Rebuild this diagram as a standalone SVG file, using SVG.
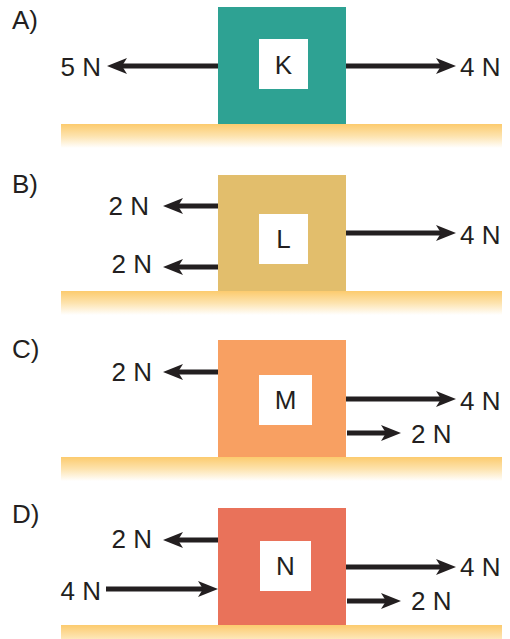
<svg xmlns="http://www.w3.org/2000/svg" width="510" height="639" viewBox="0 0 510 639">
<defs>
<linearGradient id="gr" x1="0" y1="0" x2="0" y2="1">
<stop offset="0" stop-color="#FCCB6E"/>
<stop offset="0.5" stop-color="#FDE3AE"/>
<stop offset="1" stop-color="#FFFFFF"/>
</linearGradient>
<marker id="ah" markerWidth="22" markerHeight="18" refX="6" refY="8" orient="auto" markerUnits="userSpaceOnUse">
<path d="M0,0 L20,8 L0,16 L5,8 Z" fill="#231F20"/>
</marker>
</defs>
<style>
text{font-family:"Liberation Sans",Arial,sans-serif;font-size:26px;fill:#231F20}
.c{text-anchor:middle}
.e{text-anchor:end}
.g{fill:url(#gr)}
.w{fill:#FFFFFF}
.a{stroke:#231F20;stroke-width:5;fill:none;marker-end:url(#ah)}
</style>
<g id="ground">
<rect class="g" x="61" y="124" width="441" height="24"/>
<rect class="g" x="61" y="291" width="441" height="24"/>
<rect class="g" x="61" y="457" width="441" height="24"/>
<rect class="g" x="61" y="625" width="441" height="24"/>
</g>
<g id="panelA">
<text x="12" y="29">A)</text>
<g id="K"><rect x="218" y="7" width="128" height="117" fill="#2EA293"/><rect class="w" x="259" y="39" width="49" height="50"/><text class="c" x="283.5" y="74">K</text></g>
</g>
<g id="panelB">
<text x="12" y="193">B)</text>
<g id="L"><rect x="218" y="175" width="128" height="116" fill="#E2BE6C"/><rect class="w" x="259" y="214" width="49" height="50"/><text class="c" x="283.5" y="248">L</text></g>
</g>
<g id="panelC">
<text x="12" y="358">C)</text>
<g id="M"><rect x="218" y="340" width="128" height="117" fill="#F8A062"/><rect class="w" x="259" y="375" width="53" height="50"/><text class="c" x="285.5" y="409">M</text></g>
</g>
<g id="panelD">
<text x="12" y="523">D)</text>
<g id="N"><rect x="218" y="508" width="128" height="117" fill="#E9725A"/><rect class="w" x="260" y="541" width="51" height="50"/><text class="c" x="285.5" y="575">N</text></g>
</g>
<g id="connectors">
<line class="a" x1="218" y1="66" x2="121" y2="66"/>
<line class="a" x1="346" y1="66" x2="442" y2="66"/>
<line class="a" x1="218" y1="206" x2="177" y2="206"/>
<line class="a" x1="218" y1="267" x2="177" y2="267"/>
<line class="a" x1="346" y1="233" x2="442" y2="233"/>
<line class="a" x1="218" y1="372" x2="177" y2="372"/>
<line class="a" x1="346" y1="399" x2="442" y2="399"/>
<line class="a" x1="347" y1="433" x2="387" y2="433"/>
<line class="a" x1="218" y1="540" x2="177" y2="540"/>
<line class="a" x1="106" y1="589" x2="204" y2="589"/>
<line class="a" x1="346" y1="567" x2="442" y2="567"/>
<line class="a" x1="347" y1="601" x2="387" y2="601"/>
</g>
<g id="labels">
<text class="e" x="101" y="76">5 N</text>
<text x="460" y="76">4 N</text>
<text class="e" x="149" y="215">2 N</text>
<text class="e" x="152" y="273">2 N</text>
<text x="460" y="244">4 N</text>
<text class="e" x="152" y="381">2 N</text>
<text x="460" y="410">4 N</text>
<text x="411" y="443">2 N</text>
<text class="e" x="152" y="548">2 N</text>
<text class="e" x="101" y="600">4 N</text>
<text x="460" y="576">4 N</text>
<text x="411" y="610">2 N</text>
</g>
</svg>
